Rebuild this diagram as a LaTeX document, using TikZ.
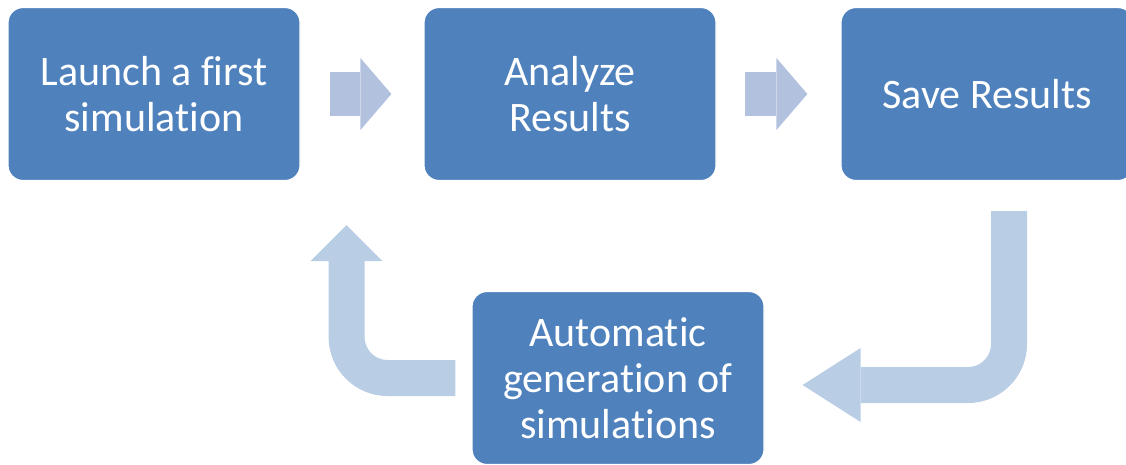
\documentclass[tikz,border=0pt]{standalone}
\usepackage{fontspec}
\setmainfont{Carlito}[Ligatures=NoCommon]
\usetikzlibrary{arrows.meta, calc}
\definecolor{boxblue}{HTML}{4F81BD}
\definecolor{fwdblue}{HTML}{B2C1DD}
\definecolor{bentblue}{HTML}{B9CDE5}

\begin{document}
\begin{tikzpicture}[
      x=1pt, y=-1pt,
      every node/.style={font=\fontsize{42}{46}\selectfont, text=white},
      stepbox/.style={rectangle, draw=white, line width=1.2pt, fill=boxblue, rounded corners=15pt, minimum width=292pt, minimum height=173pt, inner sep=0pt, align=center},
      fwdarrow/.style={fwdblue, line width=44pt, -{Triangle[length=31pt, width=72pt, line width=0pt]}},
      bentarrow/.style={bentblue, line width=36pt, rounded corners=41pt},
      longhead/.style={-{Triangle[length=58pt, width=74pt, line width=0pt]}},
      shorthead/.style={-{Triangle[length=36pt, width=72pt, line width=0pt]}}
    ]
      \useasboundingbox (0,0) rectangle (1126,464);

      % Row 0: steps
      \node[stepbox] (launch) at (154,94) {Launch a first\\simulation};
      \node[stepbox] (analyze) at (570,94) {Analyze\\Results};
      \node[stepbox] (save) at (987,94) {Save Results};

      % Row 1: generation
      \node[stepbox] (auto) at (618,378) {Automatic\\generation of\\simulations};

      % === ARROWS ===
      % Forward flow
      \draw[fwdarrow] ($(launch.east)+(29,0)$) -- ($(analyze.west)+(-32,0)$);
      \draw[fwdarrow] ($(analyze.east)+(28,0)$) -- ($(save.west)+(-33,0)$);

      % Loop back through generation
      \coordinate (saveout) at ($(save.south)+(22,30)$);
      \coordinate (autoin) at ($(auto.east)+(38,7)$);
      \coordinate (autoout) at ($(auto.west)+(-16,0)$);
      \coordinate (launchin) at ($(launch.south east)+(46,44)$);
      \draw[bentarrow, longhead] (saveout) |- (autoin);
      \draw[bentarrow, shorthead] (autoout) -| (launchin);
    \end{tikzpicture}
\end{document}
